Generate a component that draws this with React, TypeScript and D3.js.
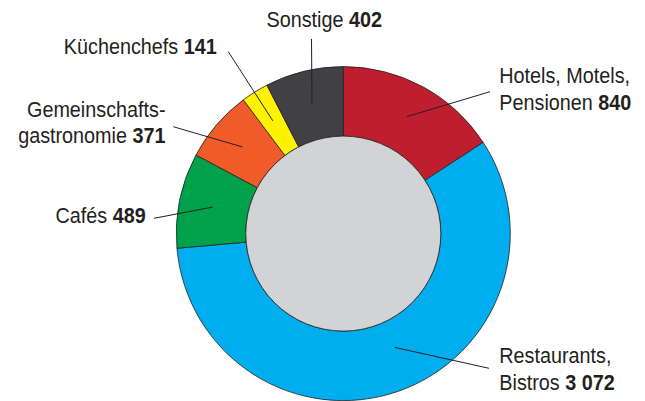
import React, { useEffect, useRef } from 'react';
import * as d3 from 'd3';

const categories = ['Hotels, Motels, Pensionen', 'Restaurants, Bistros', 'Cafés', 'Gemeinschaftsgastronomie', 'Küchenchefs', 'Sonstige'];
const values = [840, 3072, 489, 371, 141, 402];
const valueLabels = ['840', '3 072', '489', '371', '141', '402'];
const colors = ['#be1e2d', '#00aeef', '#00a14b', '#f15a29', '#fff200', '#414042'];

// label text lines (last line gets the bold value)
const labelLines = [
  ['Hotels, Motels,', 'Pensionen'],
  ['Restaurants,', 'Bistros'],
  ['Cafés'],
  ['Gemeinschafts-', 'gastronomie'],
  ['Küchenchefs'],
  ['Sonstige'],
];

const App = () => {
  const svgRef = useRef<SVGSVGElement>(null);

  useEffect(() => {
    const svg = d3.select(svgRef.current);
    svg.selectAll('*').remove();

    const cx = 343.3;
    const cy = 233.6;
    const outerR = 167;
    const innerR = 97.5;
    const ink = '#231f20';
    const font = '"Liberation Sans", Arial, sans-serif';
    const squeeze = 0.9; // condensed look

    const data = values.map((v, i) => ({ name: categories[i], value: v, i }));
    const pie = d3.pie<any>().value((d) => d.value).sort(null);
    const arcs = pie(data);
    const arc = d3.arc<any>().innerRadius(innerR).outerRadius(outerR);

    const g = svg.append('g').attr('transform', `translate(${cx},${cy})`);

    g.selectAll('path.slice')
      .data(arcs)
      .join('path')
      .attr('class', 'slice')
      .attr('d', arc)
      .attr('fill', (d) => colors[d.data.i])
      .attr('stroke', ink)
      .attr('stroke-width', 0.8);

    g.append('circle')
      .attr('r', innerR)
      .attr('fill', '#d1d3d4')
      .attr('stroke', ink)
      .attr('stroke-width', 0.8);

    // label layout: text anchor, x, first baseline, leader outer end, angle nudge / radius for inner end
    const layout = [
      { anchor: 'start', x: 499.3, y: 83.3, lx: 490, ly: 91.7, nudge: 0, r: 133 },
      { anchor: 'start', x: 499.3, y: 363.3, lx: 489, ly: 368.3, nudge: -0.093, r: 125 },
      { anchor: 'end', x: 145.7, y: 223.3, lx: 154, ly: 218.3, nudge: 0, r: 133 },
      { anchor: 'end', x: 165.5, y: 116.7, lx: 173.3, ly: 126.7, nudge: 0, r: 133 },
      { anchor: 'end', x: 216.7, y: 54.3, lx: 228.3, ly: 51.7, nudge: 0, r: 133 },
      { anchor: 'middle', x: 324.2, y: 26.7, lx: 311.5, ly: 39, nudge: 0, r: 133 },
    ];
    const lineH = 26.8;

    arcs.forEach((a, i) => {
      const L = layout[i];
      const mid = (a.startAngle + a.endAngle) / 2 + L.nudge;
      const ix = cx + L.r * Math.sin(mid);
      const iy = cy - L.r * Math.cos(mid);
      svg
        .append('line')
        .attr('x1', L.lx)
        .attr('y1', L.ly)
        .attr('x2', ix)
        .attr('y2', iy)
        .attr('stroke', ink)
        .attr('stroke-width', 1);

      const text = svg
        .append('g')
        .attr('transform', `translate(${L.x},${L.y}) scale(${squeeze},1)`)
        .append('text')
        .attr('text-anchor', L.anchor)
        .attr('font-family', font)
        .attr('font-size', 22)
        .attr('fill', ink);
      const lines = labelLines[i];
      lines.forEach((ln, k) => {
        text
          .append('tspan')
          .attr('x', 0)
          .attr('y', k * lineH)
          .text(k === lines.length - 1 ? ln + ' ' : ln);
        if (k === lines.length - 1) {
          text
            .append('tspan')
            .attr('font-weight', 'bold')
            .text(valueLabels[i]);
        }
      });
    });
  }, []);

  return (
    <svg
      ref={svgRef}
      width={645}
      height={401}
      style={{ position: 'absolute', left: 0, top: 0, background: '#fff' }}
    />
  );
};

export default App;
